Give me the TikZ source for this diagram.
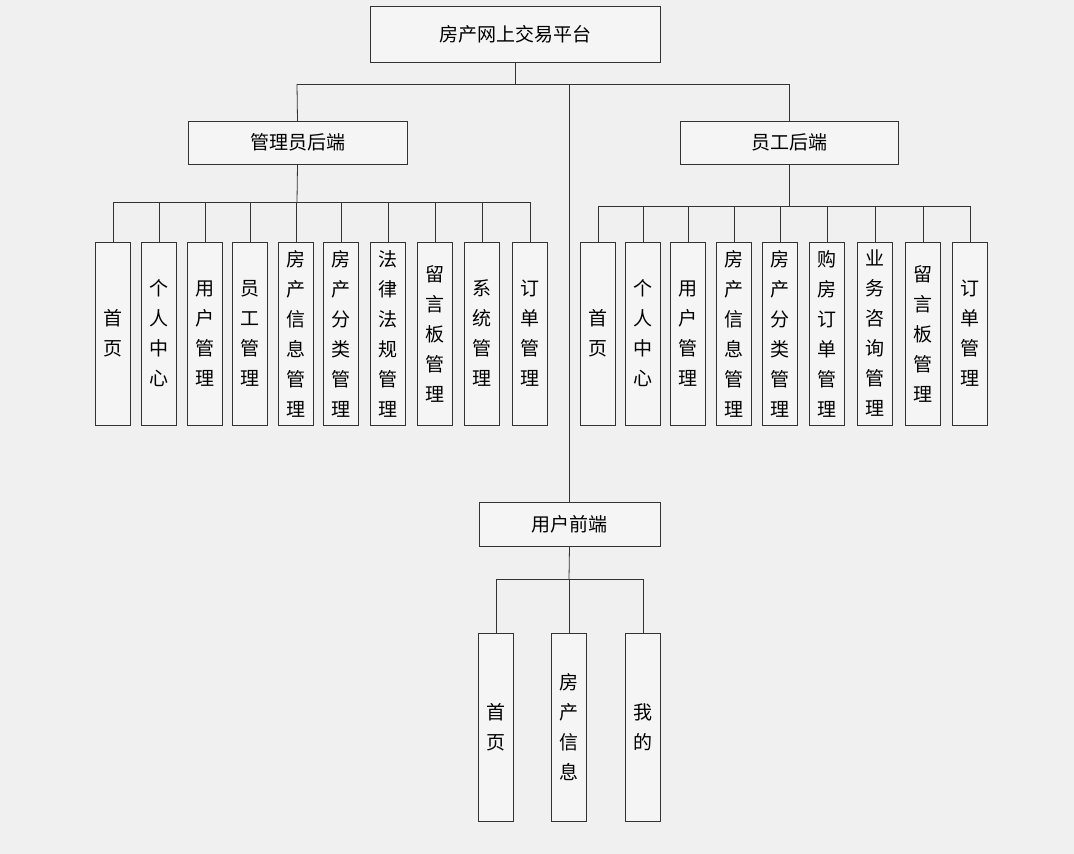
\documentclass[tikz,border=0pt]{standalone}
\usepackage{fontspec}
\setmainfont{Noto Sans CJK SC}
\begin{document}
\begin{tikzpicture}[x=1pt,y=-1pt,
  box/.style={draw=black!80,fill=white!96!black,font=\fontsize{19}{22}\selectfont,inner sep=0pt},
  col/.style={draw=black!80,fill=white!96!black,font=\fontsize{19}{30}\selectfont,align=center,inner sep=0pt,minimum width=35pt,text width=35pt},
  ln/.style={draw=black!80,line width=0.8pt}]
\fill[white!94!black] (0,0) rectangle (1074,854);
\useasboundingbox (0,0) rectangle (1074,854);
\node[box,minimum width=290pt,minimum height=56pt] (root) at (515,34) {房产网上交易平台};
\node[box,minimum width=219pt,minimum height=43pt] (adm) at (297.5,142.5) {管理员后端};
\node[box,minimum width=218pt,minimum height=43pt] (stf) at (789,142.5) {员工后端};
\node[box,minimum width=181pt,minimum height=44pt] (usr) at (569.5,524) {用户前端};
\coordinate (j0) at (515,84);
\draw[ln] (root.south) -- (j0);
\draw[ln] (297,84) -- (789,84);
\draw[ln] (297,84) -- (adm.north);
\draw[ln] (789,84) -- (stf.north);
\draw[ln] (569,84) -- (569,502);
% admin children
\foreach \x/\t/\n in {113/首\\页/a1,159/个\\人\\中\\心/a2,205/用\\户\\管\\理/a3,250/员\\工\\管\\理/a4,296/房\\产\\信\\息\\管\\理/a5,341/房\\产\\分\\类\\管\\理/a6,388/法\\律\\法\\规\\管\\理/a7,435/留\\言\\板\\管\\理/a8,482/系\\统\\管\\理/a9,530/订\\单\\管\\理/a10}{
  \node[col,minimum height=183pt] (\n) at (\x,333.5) {\t};
  \draw[ln] (\x,202) -- (\n.north);
}
\draw[ln] (113,202) -- (530,202);
\draw[ln] (adm.south) -- (297,202);
% staff children
\foreach \x/\t/\n in {598/首\\页/s1,643/个\\人\\中\\心/s2,688/用\\户\\管\\理/s3,734/房\\产\\信\\息\\管\\理/s4,780/房\\产\\分\\类\\管\\理/s5,827/购\\房\\订\\单\\管\\理/s6,875/业\\务\\咨\\询\\管\\理/s7,923/留\\言\\板\\管\\理/s8,970/订\\单\\管\\理/s9}{
  \node[col,minimum height=183pt] (\n) at (\x,333.5) {\t};
  \draw[ln] (\x,206) -- (\n.north);
}
\draw[ln] (598,206) -- (970,206);
\draw[ln] (stf.south) -- (789,206);
% user children
\foreach \x/\t/\n in {496/首\\页/u1,569/房\\产\\信\\息/u2,643/我\\的/u3}{
  \node[col,minimum height=188pt] (\n) at (\x,727) {\t};
  \draw[ln] (\x,579) -- (\n.north);
}
\draw[ln] (496,579) -- (643,579);
\draw[ln] (usr.south) -- (569,579);
\end{tikzpicture}
\end{document}
